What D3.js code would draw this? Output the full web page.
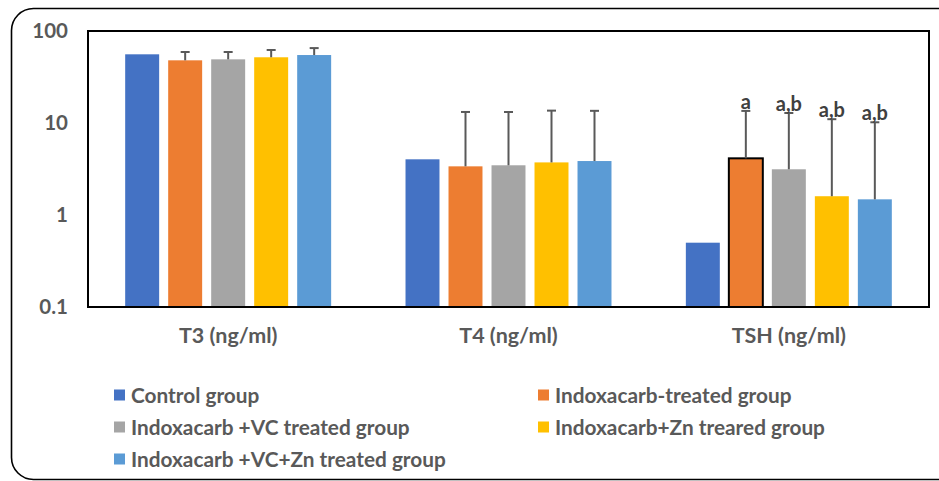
<!DOCTYPE html>
<html>
<head>
<meta charset="utf-8">
<script src="https://cdn.jsdelivr.net/npm/d3@7"></script>
<style>
  html, body { margin: 0; padding: 0; background: #fff; }
  svg { display: block; }
  text { font-family: Lato, "Open Sans", sans-serif; font-weight: bold; }
</style>
</head>
<body>
<svg id="chart" width="939" height="481"></svg>
<script>
// Thyroid hormone levels per treatment group (log scale)
const categories = ["T3 (ng/ml)", "T4 (ng/ml)", "TSH (ng/ml)"];
const groups = [
  "Control group",
  "Indoxacarb-treated group",
  "Indoxacarb +VC treated group",
  "Indoxacarb+Zn treared group",
  "Indoxacarb +VC+Zn treated group"
];
const colors = ["#4472C4", "#ED7D31", "#A5A5A5", "#FFC000", "#5B9BD5"];

// mean value per group, one array per hormone
const t3Means  = [55.8, 48.0, 49.2, 51.8, 54.8];
const t4Means  = [4.03, 3.38, 3.47, 3.73, 3.86];
const tshMeans = [0.50, 4.13, 3.14, 1.60, 1.48];

// upper error (SD) per group
const t3Sd  = [0, 11.1, 9.9, 10.4, 10.4];
const t4Sd  = [0, 9.8, 9.7, 9.9, 9.7];
const tshSd = [0, 9.4, 9.7, 9.4, 8.7];

// significance letters on TSH bars
const tshLetters = ["", "a", "a,b", "a,b", "a,b"];

const yTicks = [0.1, 1, 10, 100];
const yTickLabels = ["0.1", "1", "10", "100"];

const means = [t3Means, t4Means, tshMeans];
const sds = [t3Sd, t4Sd, tshSd];
const letters = [null, null, tshLetters];

const svg = d3.select("#chart");
const plot = { left: 88, top: 31, right: 929, bottom: 307 };

// rounded outer frame
svg.append("rect")
  .attr("x", 11.5).attr("y", 8.5)
  .attr("width", 950).attr("height", 471)
  .attr("rx", 22).attr("ry", 22)
  .attr("fill", "#fff").attr("stroke", "#000").attr("stroke-width", 1.6);

const x0 = d3.scaleBand().domain(categories).range([plot.left, plot.right]);
const x1 = d3.scaleBand().domain(d3.range(groups.length))
  .range([-107.5, 107.5]).paddingInner(0.21).paddingOuter(0.105);
const y = d3.scaleLog().domain([0.1, 100]).range([plot.bottom, plot.top]);

// y tick labels
svg.append("g").selectAll("text").data(yTicks).join("text")
  .attr("x", 68).attr("y", d => y(d)).attr("dy", "0.36em")
  .attr("text-anchor", "end").attr("font-size", 20.5).attr("fill", "#595959")
  .text((d, i) => yTickLabels[i]);

// bars
const rows = [];
categories.forEach((c, ci) => {
  groups.forEach((g, gi) => {
    rows.push({ c, ci, gi, v: means[ci][gi], sd: sds[ci][gi],
                lab: letters[ci] ? letters[ci][gi] : "" });
  });
});
const barX = d => x0(d.c) + x0.bandwidth() / 2 + x1(d.gi);

svg.append("g").selectAll("rect").data(rows).join("rect")
  .attr("x", barX)
  .attr("y", d => y(d.v))
  .attr("width", x1.bandwidth())
  .attr("height", d => y(0.1) - y(d.v))
  .attr("fill", d => colors[d.gi])
  .attr("stroke", d => (d.ci === 2 && d.gi === 1) ? "#000" : "none")
  .attr("stroke-width", 2);

// error bars (plus direction only)
const eb = svg.append("g").attr("stroke", "#595959").attr("stroke-width", 2);
rows.filter(d => d.sd > 0).forEach(d => {
  const cx = barX(d) + x1.bandwidth() / 2;
  const top = y(d.v + d.sd);
  eb.append("line").attr("x1", cx).attr("x2", cx).attr("y1", y(d.v)).attr("y2", top);
  eb.append("line").attr("x1", cx - 4.5).attr("x2", cx + 4.5).attr("y1", top).attr("y2", top);
});

// significance letters
svg.append("g").selectAll("text").data(rows.filter(d => d.lab)).join("text")
  .attr("x", d => barX(d) + x1.bandwidth() / 2)
  .attr("y", d => y(d.v + d.sd) - 2)
  .attr("text-anchor", "middle").attr("font-size", 20).attr("fill", "#404040")
  .text(d => d.lab);

// plot frame
svg.append("rect")
  .attr("x", plot.left).attr("y", plot.top)
  .attr("width", plot.right - plot.left).attr("height", plot.bottom - plot.top)
  .attr("fill", "none").attr("stroke", "#000").attr("stroke-width", 2);

// category labels
svg.append("g").selectAll("text").data(categories).join("text")
  .attr("x", d => x0(d) + x0.bandwidth() / 2).attr("y", 343)
  .attr("text-anchor", "middle").attr("font-size", 21.5).attr("fill", "#595959")
  .text(d => d);

// legend
const legPos = [[114, 395], [538, 395], [114, 427], [538, 427], [114, 459]];
const leg = svg.append("g").selectAll("g").data(groups).join("g")
  .attr("transform", (d, i) => `translate(${legPos[i][0]},${legPos[i][1]})`);
leg.append("rect").attr("x", 0).attr("y", -5.5).attr("width", 11).attr("height", 11)
  .attr("fill", (d, i) => colors[i]);
leg.append("text").attr("x", 17).attr("y", 0).attr("dy", "0.36em")
  .attr("font-size", 20.8).attr("fill", "#595959").text(d => d);
</script>
</body>
</html>
